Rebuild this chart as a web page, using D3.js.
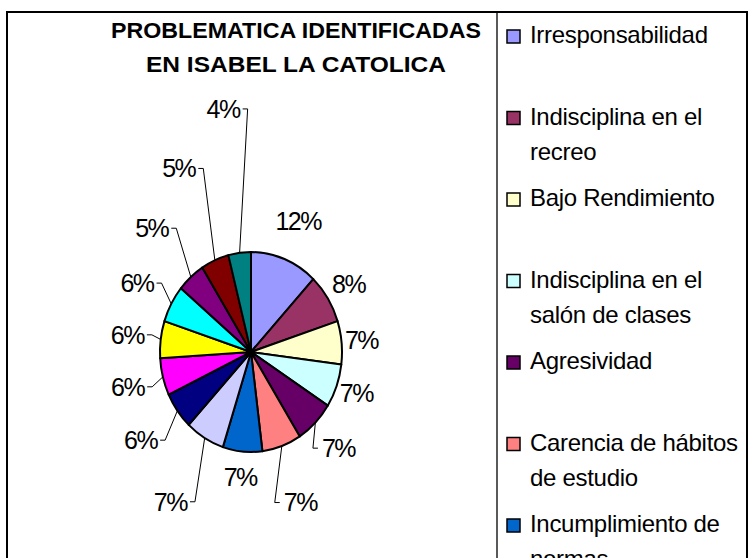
<!DOCTYPE html>
<html>
<head>
<meta charset="utf-8">
<script src="https://cdn.jsdelivr.net/npm/d3@7"></script>
<style>
  body { margin: 0; background: #fff; }
  svg { display: block; font-family: "Liberation Sans", Arial, sans-serif; }
</style>
</head>
<body>
<svg id="chart"></svg>
<script>
// chart data
const titleLines = ['PROBLEMATICA IDENTIFICADAS', 'EN ISABEL LA CATOLICA']

const categories = [
    'Irresponsabilidad',
    'Indisciplina en el recreo',
    'Bajo Rendimiento',
    'Indisciplina en el salón de clases',
    'Agresividad',
    'Carencia de hábitos de estudio',
    'Incumplimiento de normas',
    'Categoría 8',
    'Categoría 9',
    'Categoría 10',
    'Categoría 11',
    'Categoría 12',
    'Categoría 13',
    'Categoría 14',
    'Categoría 15'
]

const percents = [12, 8, 7, 7, 7, 7, 7, 7, 6, 6, 6, 6, 5, 5, 4]

const palette = ['#9999FF', '#993366', '#FFFFCC', '#CCFFFF', '#660066', '#FF8080', '#0066CC',
    '#CCCCFF', '#000080', '#FF00FF', '#FFFF00', '#00FFFF', '#800080', '#800000', '#008080']

const draw = () => {

    const width = 749
    const height = 558

    const svg = d3.select('#chart')
        .attr('width', width)
        .attr('height', height)

    // outer chart frame (bottom edge runs off the picture) and legend box
    svg.append('rect')
        .attr('x', 7).attr('y', 12)
        .attr('width', 740).attr('height', height)
        .attr('fill', 'none')
        .attr('stroke', '#000')
        .attr('stroke-width', 2)

    svg.append('line')
        .attr('x1', 497).attr('x2', 497)
        .attr('y1', 12).attr('y2', height)
        .attr('stroke', '#000')
        .attr('stroke-width', 1.3)

    // title, fitted to the width it has in the original
    const titleWidths = [370, 300]
    svg.selectAll('.title')
        .data(titleLines)
        .join('text')
        .attr('class', 'title')
        .attr('x', 296)
        .attr('y', (d, i) => 38 + i * 34)
        .attr('text-anchor', 'middle')
        .attr('font-size', 21.5)
        .attr('font-weight', 'bold')
        .attr('textLength', (d, i) => titleWidths[i])
        .attr('lengthAdjust', 'spacingAndGlyphs')
        .text(d => d)

    // pie: the picture is stretched, so the pie is an ellipse
    const cx = 251, cy = 352, ry = 100, rx = 91

    const color = d3.scaleOrdinal().domain(d3.range(categories.length)).range(palette)

    const pie = d3.pie().sort(null).value(d => d)
    const arcs = pie(percents)
    const arc = d3.arc().innerRadius(0).outerRadius(ry)

    svg.append('g')
        .attr('transform', `translate(${cx},${cy}) scale(${rx / ry},1)`)
        .selectAll('path')
        .data(arcs)
        .join('path')
        .attr('d', arc)
        .attr('fill', (d, i) => color(i))
        .attr('stroke', '#000')
        .attr('stroke-width', 2)
        .attr('stroke-linejoin', 'round')
        .attr('vector-effect', 'non-scaling-stroke')

    // where a point at angle a sits, k times the radius out
    const onEllipse = (a, k) => [cx + rx * k * Math.sin(a), cy - ry * k * Math.cos(a)]

    // label distance (in radii) and whether Excel drew a leader line
    const labelDist = [1.41, 1.27, 1.22, 1.23, 1.36, 1.6, 1.26, 1.74, 1.5, 1.4, 1.37, 1.43, 1.65, 2.0, 2.45]
    const leader = [false, false, false, false, true, true, false, true, true, true, true, true, true, true, true]

    const labels = svg.append('g')

    arcs.forEach((d, i) => {
        const mid = (d.startAngle + d.endAngle) / 2
        const [lx, ly] = onEllipse(mid, labelDist[i])

        const t = labels.append('text')
            .attr('x', lx)
            .attr('y', ly)
            .attr('dy', '0.35em')
            .attr('text-anchor', 'middle')
            .attr('font-size', 25)
            .attr('letter-spacing', -1.5)
            .text(d.data + '%')

        if (!leader[i]) return

        const w = t.node().getComputedTextLength()
        const [ex, ey] = onEllipse(mid, 1)
        const left = lx < ex
        const side = left ? lx + w / 2 + 3 : lx - w / 2 - 4
        const bend = left ? side + 5 : side - 5

        labels.append('polyline')
            .attr('points', [[ex, ey], [bend, ly], [side, ly]].map(p => p.join(',')).join(' '))
            .attr('fill', 'none')
            .attr('stroke', '#000')
            .attr('stroke-width', 1)
    })

    // legend, wrapped like Excel does it
    const legend = svg.append('g').attr('font-size', 24).attr('letter-spacing', -0.3)
    const maxWidth = 212
    const textX = 530

    const measure = legend.append('text').attr('visibility', 'hidden')
    const wrap = str => {
        const lines = []
        let line = ''
        str.split(' ').forEach(word => {
            const test = line ? line + ' ' + word : word
            measure.text(test)
            if (line && measure.node().getComputedTextLength() > maxWidth) {
                lines.push(line)
                line = word
            } else {
                line = test
            }
        })
        lines.push(line)
        return lines
    }

    categories.forEach((name, i) => {
        const base = 43 + i * 81.5

        legend.append('rect')
            .attr('x', 507)
            .attr('y', base - 13)
            .attr('width', 13)
            .attr('height', 13)
            .attr('fill', color(i))
            .attr('stroke', '#000')
            .attr('stroke-width', 1.5)

        legend.append('text')
            .selectAll('tspan')
            .data(wrap(name))
            .join('tspan')
            .attr('x', textX)
            .attr('y', (d, j) => base + j * 35)
            .text(d => d)
    })

    measure.remove()
}

draw()
</script>
</body>
</html>
